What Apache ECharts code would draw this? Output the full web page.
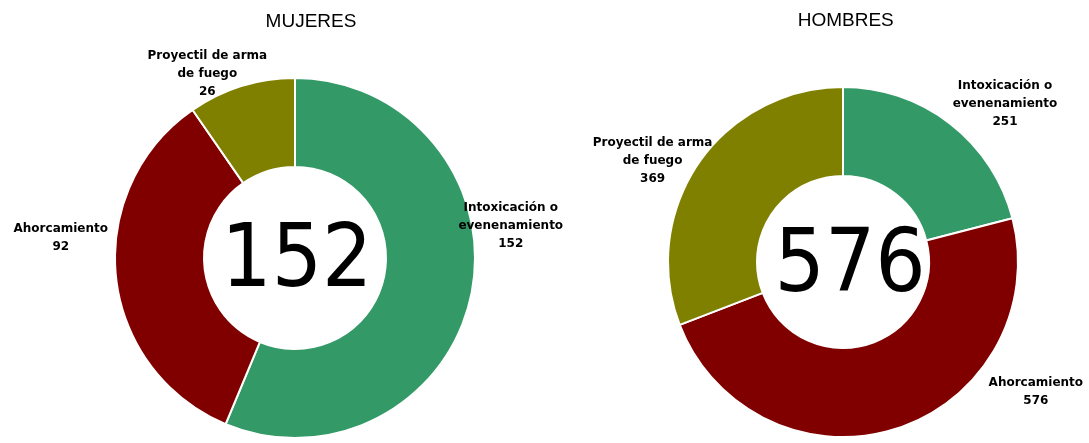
<!DOCTYPE html>
<html>
<head>
<meta charset="utf-8">
<script src="https://cdn.jsdelivr.net/npm/echarts@6/dist/echarts.min.js"></script>
<style>
  html, body { margin: 0; padding: 0; background: #fff; }
  #main { width: 1089px; height: 443px; }
</style>
</head>
<body>
<div id="main"></div>
<script>
// datos
var categorias = ['Intoxicación o\nevenenamiento', 'Ahorcamiento', 'Proyectil de arma\nde fuego']
var mujeres = [152, 92, 26]
var hombres = [251, 576, 369]
var titulos = ['MUJERES', 'HOMBRES']
var colores = ['#339966', '#800000', '#808000']

// desplazamiento de etiquetas (como en el original)
var ajustes = [
    [[-22, -68], [1, -39], [32, -8]],
    [[-5, -17], [86, -35], [22, 0]]
]

function toData(valores) {
    return categorias.map(function (c, i) {
        return { name: c, value: valores[i] }
    })
}

function etiqueta(p) {
    var lineas = p.name.split('\n')
    lineas.push(String(p.value))
    return lineas.map(function (l) { return '{c|' + l + '}' }).join('\n')
}

var labelStyle = {
    show: true,
    position: 'outside',
    formatter: etiqueta,
    color: '#000',
    rich: {
        c: {
            fontFamily: 'DejaVu Sans',
            fontWeight: 'bold',
            fontSize: 12,
            lineHeight: 18,
            color: '#000',
            align: 'center'
        }
    }
}

function mover(params) {
    var a = ajustes[params.seriesIndex][params.dataIndex]
    return { dx: a[0], dy: a[1] }
}

var tituloStyle = { fontFamily: 'Liberation Sans', fontWeight: 'normal', fontSize: 19, color: '#000' }
var centroStyle = { fontFamily: 'DejaVu Sans Condensed', fontWeight: 'normal', fontSize: 88, color: '#000' }

var chart = echarts.init(document.getElementById('main'))
var option = {
    backgroundColor: '#fff',
    color: colores,
    animation: false,
    title: [
        { text: titulos[0], left: '28.1%', top: 7, textAlign: 'center', textStyle: tituloStyle },
        { text: titulos[1], left: '77.2%', top: 6, textAlign: 'center', textStyle: tituloStyle },
        { text: String(Math.max.apply(null, mujeres)), left: '26.8%', top: 214, textAlign: 'center', textStyle: centroStyle },
        { text: String(Math.max.apply(null, hombres)), left: '77.6%', top: 219, textAlign: 'center', textStyle: centroStyle }
    ],
    series: [
        {
            type: 'pie',
            center: [295, 258],
            radius: [91, 180],
            startAngle: 90,
            clockwise: true,
            itemStyle: { borderColor: '#fff', borderWidth: 2 },
            label: labelStyle,
            labelLine: { show: false, length: 4, length2: 0 },
            labelLayout: mover,
            data: toData(mujeres)
        },
        {
            type: 'pie',
            center: [843, 262],
            radius: [86, 175],
            startAngle: 90,
            clockwise: true,
            itemStyle: { borderColor: '#fff', borderWidth: 2 },
            label: labelStyle,
            labelLine: { show: false, length: 4, length2: 0 },
            labelLayout: mover,
            data: toData(hombres)
        }
    ]
}
chart.setOption(option)
</script>
</body>
</html>
